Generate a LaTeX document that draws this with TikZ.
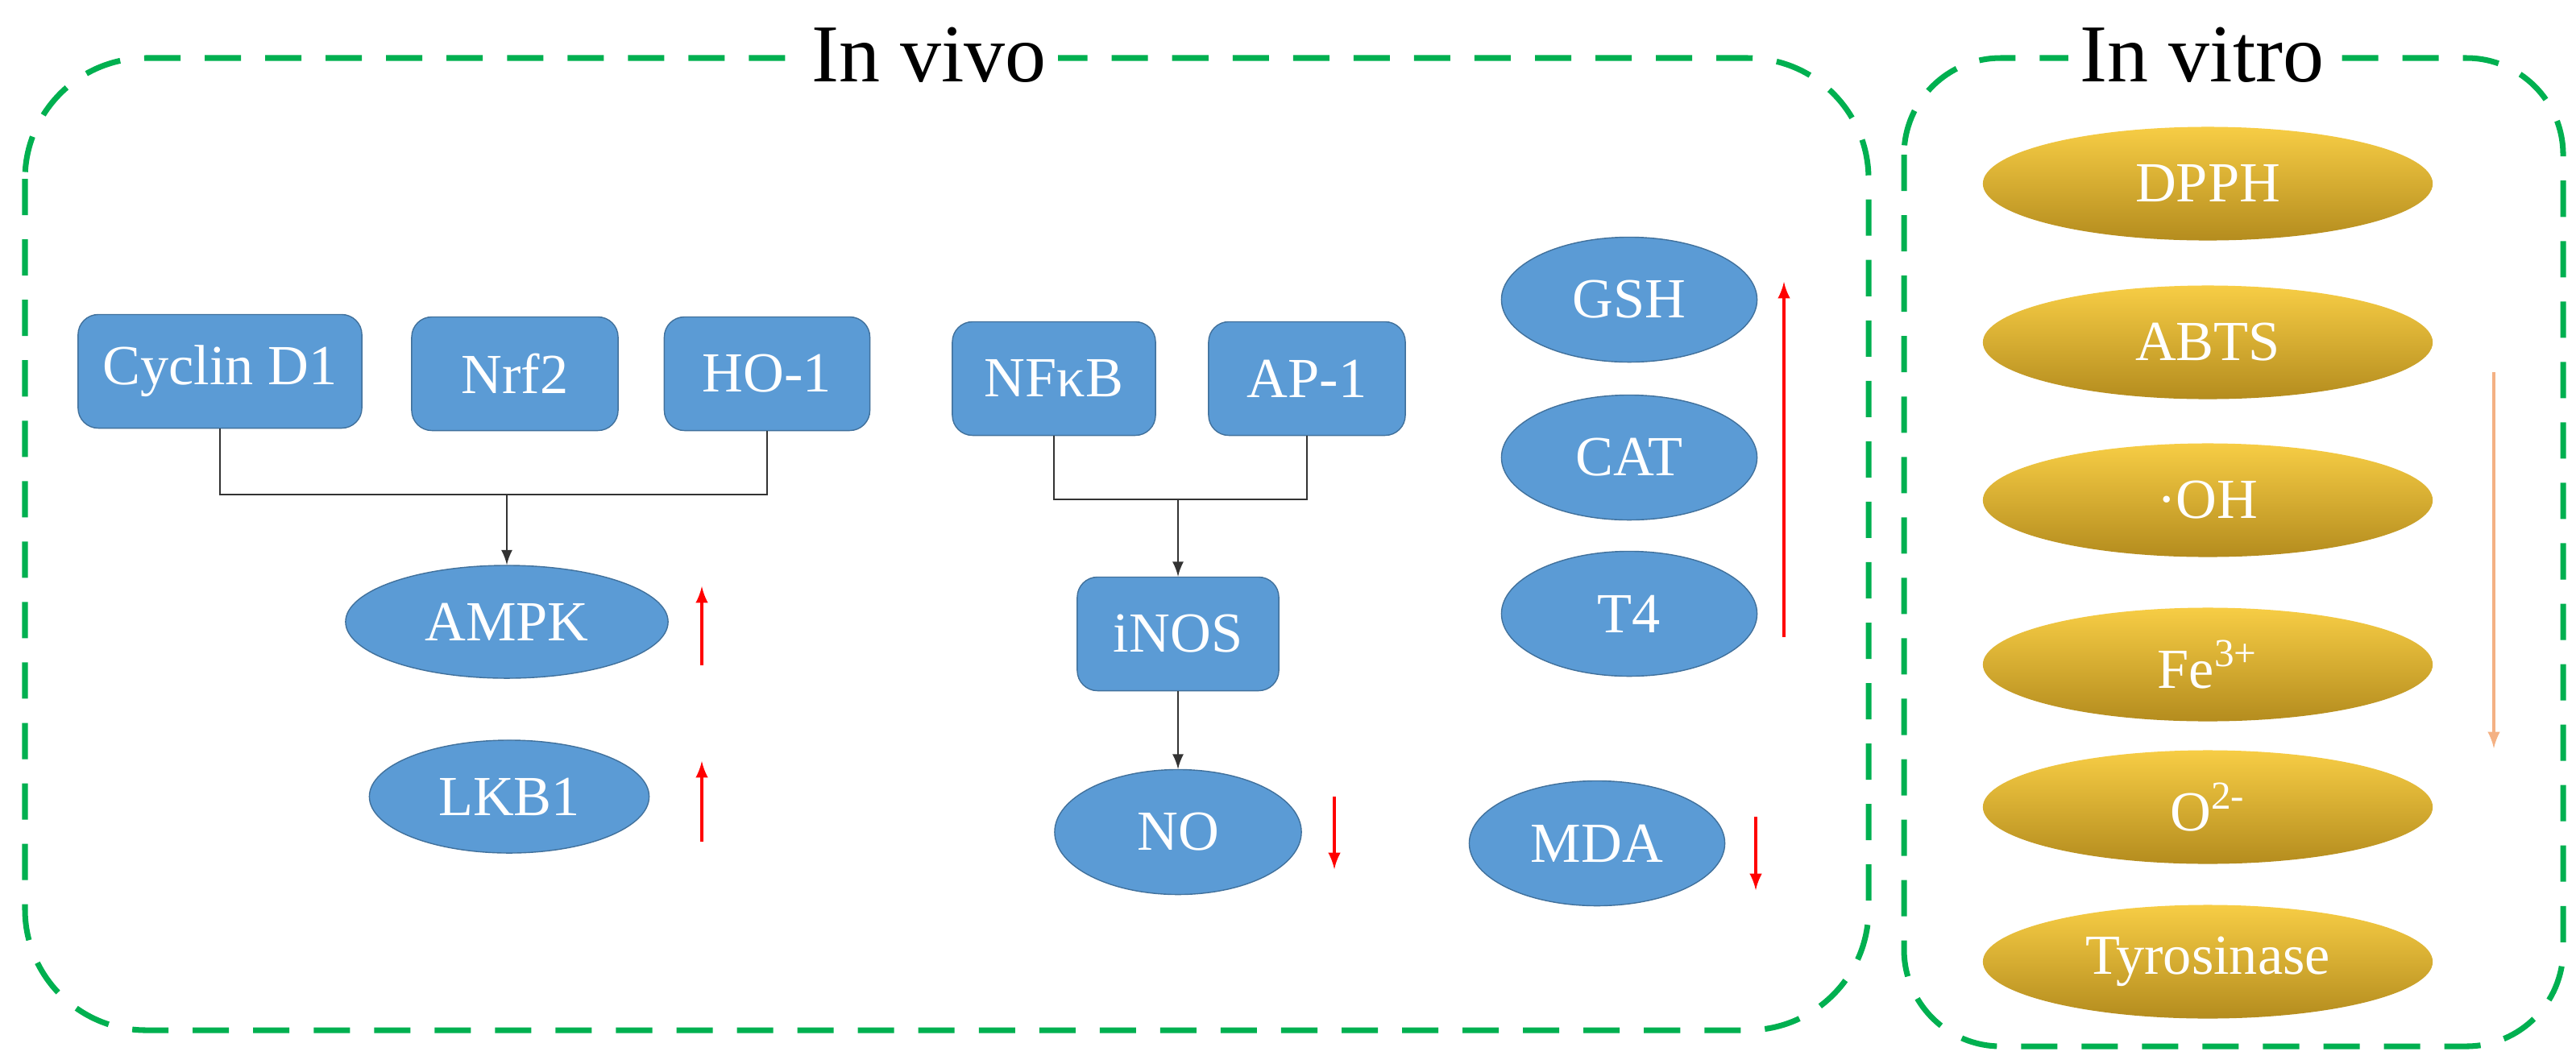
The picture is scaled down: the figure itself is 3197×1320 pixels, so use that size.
\documentclass[tikz,border=0pt]{standalone}
\usepackage{fontspec}
\setmainfont{Liberation Serif}
\usetikzlibrary{positioning,arrows,shapes,calc}
\definecolor{boxblue}{HTML}{5B9BD5}
\definecolor{edgeblue}{HTML}{41719C}
\definecolor{dashgreen}{HTML}{00B050}
\definecolor{goldtop}{HTML}{F7CD45}
\definecolor{goldbot}{HTML}{B48C1E}
\definecolor{peach}{HTML}{F4B183}
\tikzset{
  rbox/.style={draw=edgeblue, fill=boxblue, rounded corners=0.25cm, text=white,
    minimum height=1.41cm, font=\fontsize{20}{22}\selectfont, inner sep=2pt},
  ebox/.style={ellipse, draw=edgeblue, fill=boxblue, text=white,
    minimum height=1.55cm, font=\fontsize{20}{22}\selectfont, inner sep=0pt},
  gold/.style={ellipse, top color=goldtop, bottom color=goldbot, draw=none, text=white,
    minimum width=5.58cm, minimum height=1.41cm, font=\fontsize{20}{22}\selectfont},
  frame/.style={draw=dashgreen, line width=2pt, dash pattern=on 0.45cm off 0.3cm},
  title/.style={fill=white, font=\fontsize{29}{32}\selectfont, inner sep=4pt},
  link/.style={draw=black!80, line width=0.8pt},
  up/.style={draw=red, line width=1pt, -latex},
}
\begin{document}
\begin{tikzpicture}[x=0.01cm, y=-0.01cm]
    \useasboundingbox (0,0) rectangle (3197,1320);

    % the two frames
    \draw[frame, rounded corners=1.5cm] (31,72) rectangle (2319,1279);
    \draw[frame, rounded corners=1.2cm] (2363,72) rectangle (3181,1299);
    \node[title] (vivo) at (1153,68) {In vivo};
    \node[title] (vitro) at (2733,68) {In vitro};

    % upper row of boxes
    \node[rbox, minimum width=3.52cm] (cyc) at (273,461) {Cyclin D1};
    \node[rbox, minimum width=2.56cm] (nrf) at (639,464) {Nrf2};
    \node[rbox, minimum width=2.55cm] (ho) at (952,464) {HO-1};
    \node[rbox, minimum width=2.52cm] (nfkb) at (1308,470) {NFκB};
    \node[rbox, minimum width=2.44cm] (ap) at (1622,470) {AP-1};
    \node[rbox, minimum width=2.50cm] (inos) at (1462,787) {iNOS};

    % the ellipses
    \node[ebox, minimum width=4.0cm, minimum height=1.4cm] (ampk) at (629,772) {AMPK};
    \node[ebox, minimum width=3.47cm, minimum height=1.4cm] (lkb) at (632,989) {LKB1};
    \node[ebox, minimum width=3.06cm] (no) at (1462,1033) {NO};
    \node[ebox, minimum width=3.17cm] (gsh) at (2022,372) {GSH};
    \node[ebox, minimum width=3.17cm] (cat) at (2022,568) {CAT};
    \node[ebox, minimum width=3.17cm] (t4) at (2022,762) {T4};
    \node[ebox, minimum width=3.17cm] (mda) at (1982,1047) {MDA};

    % in vitro assays
    \node[gold] (dpph) at (2740,228) {DPPH};
    \node[gold] (abts) at (2740,425) {ABTS};
    \node[gold] (oh) at (2740,621) {·OH};
    \node[gold] (fe) at (2740,825) {Fe\textsuperscript{3+}};
    \node[gold] (oo) at (2740,1002) {O\textsuperscript{2-}};
    \node[gold] (tyr) at (2740,1194) {Tyrosinase};

    % brackets and arrows
    \coordinate (j1) at (629,614);
    \coordinate (j2) at (1462,620);
    \draw[link] (cyc.south) |- (j1) -| (ho.south);
    \draw[link, -latex] (j1) -- (ampk.north);
    \draw[link] (nfkb.south) |- (j2) -| (ap.south);
    \draw[link, -latex] (j2) -- (inos.north);
    \draw[link, -latex] (inos.south) -- (no.north);

    % the up and down marks
    \coordinate (a1) at (871,826); \coordinate (a2) at (871,728);
    \coordinate (b1) at (871,1045); \coordinate (b2) at (871,945);
    \coordinate (c1) at (1656,989); \coordinate (c2) at (1656,1079);
    \coordinate (d1) at (2214,791); \coordinate (d2) at (2214,350);
    \coordinate (e1) at (2179,1014); \coordinate (e2) at (2179,1105);
    \coordinate (f1) at (3095,462); \coordinate (f2) at (3095,929);
    \draw[up] (a1) -- (a2);
    \draw[up] (b1) -- (b2);
    \draw[up] (c1) -- (c2);
    \draw[up] (d1) -- (d2);
    \draw[up] (e1) -- (e2);
    \draw[up, draw=peach] (f1) -- (f2);

\end{tikzpicture}
\end{document}
